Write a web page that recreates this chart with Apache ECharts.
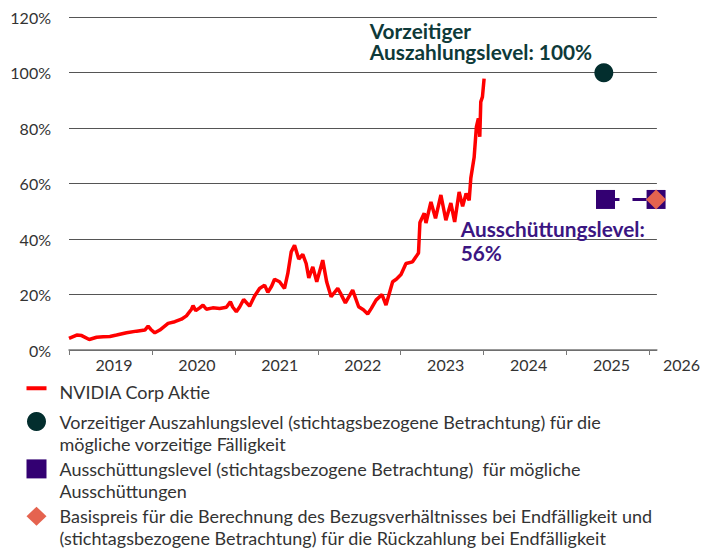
<!DOCTYPE html>
<html>
<head>
<meta charset="utf-8">
<script src="https://cdn.jsdelivr.net/npm/echarts@6/dist/echarts.min.js"></script>
<style>
  html, body { margin: 0; padding: 0; background: #fff; }
  #chart { width: 703px; height: 548px; }
</style>
</head>
<body>
<div id="chart"></div>
<script>
// x = Jahre ab Beginn der Kurshistorie (Tick 0 = erster Kurs)
const stockT = [0, 0.093, 0.153, 0.244, 0.333, 0.413, 0.493, 0.574, 0.694, 0.815,
  0.915, 0.954, 0.987, 1.035, 1.095, 1.195, 1.276, 1.356, 1.416, 1.477,
  1.496, 1.528, 1.576, 1.616, 1.657, 1.733, 1.817, 1.898, 1.946, 1.974,
  2.018, 2.058, 2.106, 2.178, 2.238, 2.298, 2.359, 2.398, 2.443, 2.479,
  2.539, 2.599, 2.639, 2.680, 2.720, 2.771, 2.819, 2.860, 2.892, 2.940,
  2.988, 3.060, 3.108, 3.161, 3.241, 3.273, 3.333, 3.421, 3.493, 3.550,
  3.602, 3.646, 3.703, 3.775, 3.823, 3.903, 3.947, 4.004, 4.064, 4.143,
  4.184, 4.215, 4.232, 4.284, 4.305, 4.365, 4.420, 4.485, 4.545, 4.605,
  4.651, 4.705, 4.747, 4.789, 4.826, 4.846, 4.886, 4.913, 4.937, 4.954,
  4.966, 4.986, 5.006];
// Kurs in % des Startniveaus
const stockPct = [4.2, 5.4, 5.2, 3.8, 4.6, 4.8, 4.9, 5.4, 6.2, 6.8,
  7.2, 8.6, 7.4, 6.2, 7.2, 9.6, 10.2, 11.1, 12.3, 14.7,
  16, 14.2, 15.2, 16.2, 14.7, 15.2, 15, 15.4, 17.4, 15.5,
  13.8, 15.5, 18.2, 15.8, 19.5, 22.2, 23.4, 20.8, 23, 25.5,
  24.6, 22.2, 27.6, 35.4, 37.8, 32.8, 34.5, 31.2, 26, 30,
  24.6, 32.4, 24.5, 19.2, 22.2, 20.5, 17, 21.6, 15.6, 14.5,
  13, 15, 18, 20, 16.2, 24.6, 25.5, 27.2, 31.2, 31.8,
  33.6, 35, 46, 49.3, 45.8, 53.4, 47.5, 55.9, 46.8, 53,
  46.2, 57, 51.8, 56.5, 54, 62, 69.5, 80.5, 83.5, 76.9,
  89.5, 91.3, 97.9];

const yearLabels = ['2019', '2020', '2021', '2022', '2023', '2024', '2025', '2026'];
const yearTicks = [0, 1, 2, 3, 4, 5, 6, 7];

const earlyPoint = [6.45, 100];
const couponPoints = [[6.47, 54.3], [7.08, 54.3]];
const strikePoint = [7.08, 54.3];

const seriesNames = ['NVIDIA Corp Aktie', 'Vorzeitiger Auszahlungslevel', 'Ausschüttungslevel', 'Basispreis'];
const legendTexts = [
  'NVIDIA Corp Aktie',
  'Vorzeitiger Auszahlungslevel (stichtagsbezogene Betrachtung) für die\nmögliche vorzeitige Fälligkeit',
  'Ausschüttungslevel (stichtagsbezogene Betrachtung)  für mögliche\nAusschüttungen',
  'Basispreis für die Berechnung des Bezugsverhältnisses bei Endfälligkeit und\n(stichtagsbezogene Betrachtung) für die Rückzahlung bei Endfälligkeit'
];

const RED = '#ff0000';
const TEAL = '#032e2e';
const PURPLE = '#330072';
const CORAL = '#e5634f';

const chart = echarts.init(document.getElementById('chart'), null, { renderer: 'svg' });

const option = {
  animation: false,
  textStyle: { fontFamily: 'Lato' },
  grid: { left: 69, right: 44.7, top: 17.3, bottom: 198 },
  legend: {
    orient: 'vertical',
    left: 26.5,
    top: 377.3,
    height: 400,
    padding: 0,
    itemGap: -18.7,
    itemWidth: 20,
    itemHeight: 19,
    selectedMode: false,
    textStyle: { fontSize: 18, lineHeight: 22, color: '#333', padding: [0, 0, 0, 8] },
    // zweizeilige Texte: Leerzeile davor, damit das Symbol neben der ersten Zeile steht
    formatter: name => {
      const t = legendTexts[seriesNames.indexOf(name)];
      return t.indexOf('\n') >= 0 ? '\n' + t : t;
    },
    data: [
      // Balken etwas oberhalb der Textmitte (Nullflächen-Pfad verlängert die Box nach unten)
      { name: seriesNames[0], icon: 'path://M0,0H20V4H0Z M0,12H20Z', itemStyle: { color: RED, borderWidth: 0 },
        textStyle: { lineHeight: 30 } },
      { name: seriesNames[1], icon: 'circle' },
      { name: seriesNames[2], icon: 'rect' },
      { name: seriesNames[3], icon: 'diamond' }
    ]
  },
  xAxis: {
    type: 'value',
    min: 0,
    max: 7.09,
    splitLine: { show: false },
    axisLine: { lineStyle: { color: '#777', width: 1.5 } },
    axisTick: { customValues: yearTicks, length: 5, lineStyle: { color: '#777' } },
    axisLabel: {
      customValues: yearTicks,
      margin: 6,
      fontSize: 16,
      color: '#333',
      formatter: v => {
        const i = Math.round(v);
        return i === yearTicks.length - 1 ? '{b|' + yearLabels[i] + '}' : '{a|' + yearLabels[i] + '}';
      },
      rich: {
        a: { fontSize: 16, color: '#333', padding: [0, 0, 0, 90] },
        b: { fontSize: 16, color: '#333', padding: [0, 0, 0, 64] }
      }
    }
  },
  yAxis: {
    type: 'value',
    min: 0,
    max: 120,
    interval: 20,
    axisLine: { show: false },
    axisTick: { show: false },
    splitLine: { lineStyle: { color: '#555', width: 1 } },
    axisLabel: { formatter: '{value}%', fontSize: 16, color: '#333', margin: 18 }
  },
  series: [
    {
      name: seriesNames[0],
      type: 'line',
      data: stockT.map((t, i) => [t, stockPct[i]]),
      showSymbol: false,
      symbol: 'none',
      itemStyle: { color: RED },
      lineStyle: { color: RED, width: 3.5 },
      z: 3
    },
    {
      name: seriesNames[1],
      type: 'scatter',
      data: [earlyPoint],
      symbol: 'circle',
      symbolSize: 19,
      itemStyle: { color: TEAL, opacity: 1 },
      clip: false,
      label: {
        show: true,
        formatter: 'Vorzeitiger\nAuszahlungslevel: 100%',
        position: [-224.5, -42.7],
        align: 'left',
        verticalAlign: 'top',
        fontSize: 20.8,
        fontWeight: 'bold',
        lineHeight: 20.8,
        color: '#0e3a39'
      }
    },
    {
      name: seriesNames[2],
      type: 'line',
      data: [
        { value: couponPoints[0], label: {
          show: true,
          formatter: 'Ausschüttungslevel:\n56%',
          position: [-135.3, 25.9],
          align: 'left',
          verticalAlign: 'top',
          fontSize: 20.8,
          fontWeight: 'bold',
          lineHeight: 24.3,
          color: '#3b1682'
        } },
        couponPoints[1]
      ],
      symbol: 'rect',
      symbolSize: 19,
      showAllSymbol: true,
      clip: false,
      itemStyle: { color: PURPLE },
      lineStyle: { color: PURPLE, width: 3, type: [14, 13] },
      z: 4
    },
    {
      name: seriesNames[3],
      type: 'scatter',
      data: [strikePoint],
      symbol: 'diamond',
      symbolSize: 20,
      clip: false,
      itemStyle: { color: CORAL, opacity: 1 },
      z: 5
    }
  ]
};

chart.setOption(option);
window.addEventListener('resize', () => chart.resize());
</script>
</body>
</html>
